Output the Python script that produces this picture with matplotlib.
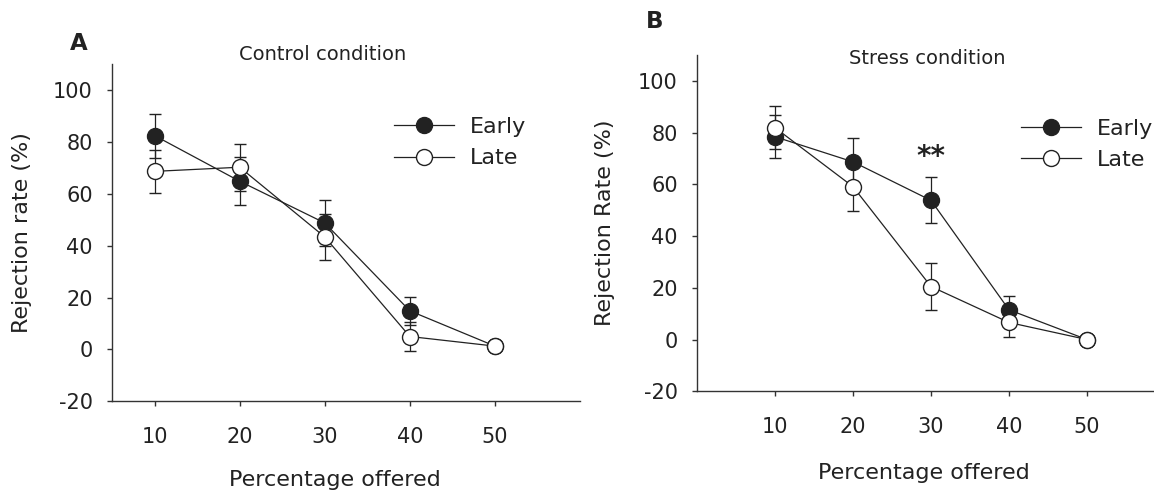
import matplotlib
matplotlib.use("Agg")
from matplotlib import pyplot as plt

# data
offers = [10, 20, 30, 40, 50]

ctrl_early = [82.5, 64.9, 48.8, 14.9, 1.3]
ctrl_early_err = [8.5, 9.2, 9.0, 5.5, 0]
ctrl_late = [68.7, 70.3, 43.4, 5.0, 1.3]
ctrl_late_err = [8.3, 9.1, 9.0, 5.5, 0]

stress_early = [78.4, 68.7, 53.8, 11.5, 0]
stress_early_err = [8.4, 9.4, 8.9, 5.3, 0]
stress_late = [81.9, 59.1, 20.5, 6.6, 0]
stress_late_err = [8.3, 9.4, 9.2, 5.7, 0]

y_ticks = [-20, 0, 20, 40, 60, 80, 100]
signif_x, signif_y = 30, 70.4

plt.rcParams['font.family'] = ['DejaVu Sans']
plt.rcParams['axes.unicode_minus'] = False
INK = '#222222'
AX = '#333333'


def draw_panel(ax, early, early_err, late, late_err, xlim, ylabel):
    style = dict(color=INK, lw=0.9, ms=11.5, mew=1.0, mec=INK,
                 elinewidth=0.9, capsize=4, capthick=0.9)
    e = ax.errorbar(offers, early, yerr=early_err, fmt='o-', mfc=INK, zorder=3, **style)
    l = ax.errorbar(offers, late, yerr=late_err, fmt='o-', mfc='white', zorder=4, **style)
    ax.set_xlim(*xlim)
    ax.set_ylim(-20, 110)
    ax.set_xticks(offers)
    ax.set_yticks(y_ticks)
    for s in ['top', 'right']:
        ax.spines[s].set_visible(False)
    for s in ['left', 'bottom']:
        ax.spines[s].set_color(AX)
        ax.spines[s].set_linewidth(1.0)
    ax.tick_params(axis='both', direction='out', length=3.8, width=1.0,
                   color=AX, labelcolor=INK, labelsize=15)
    ax.tick_params(axis='x', pad=15)
    ax.tick_params(axis='y', pad=10)
    ax.set_ylabel(ylabel, fontsize=16, color=INK)
    ax.set_xlabel('Percentage offered', fontsize=16, color=INK)
    return e, l


fig = plt.figure(figsize=(11.54, 4.92), dpi=100)
axA = fig.add_axes([0.0971, 0.1843, 0.4055, 0.685])
axB = fig.add_axes([0.604, 0.2047, 0.4055, 0.6835])

eA, lA = draw_panel(axA, ctrl_early, ctrl_early_err, ctrl_late, ctrl_late_err,
                    (5, 60), 'Rejection rate (%)')
eB, lB = draw_panel(axB, stress_early, stress_early_err, stress_late, stress_late_err,
                    (0, 60), 'Rejection Rate (%)')

axA.yaxis.set_label_coords(-0.171, 0.5)
axB.yaxis.set_label_coords(-0.175, 0.5)
axA.xaxis.set_label_coords(0.476, -0.204)
axB.xaxis.set_label_coords(0.485, -0.214)

axA.text(0.451, 1.028, 'Control condition', transform=axA.transAxes,
         ha='center', va='center', fontsize=14, color=INK)
axB.text(0.491, 0.990, 'Stress condition', transform=axB.transAxes,
         ha='center', va='center', fontsize=14, color=INK)

axB.text(signif_x, signif_y, '**', ha='center', va='center',
         fontsize=20, fontweight='bold', color=INK)

leg_kw = dict(frameon=False, fontsize=16, handlelength=2.7, handletextpad=0.7,
              labelspacing=0.5, borderpad=0, borderaxespad=0, loc='center left')
legA = axA.legend([eA[0], lA[0]], ['Early', 'Late'], bbox_to_anchor=(0.603, 0.767), **leg_kw)
legB = axB.legend([eB[0], lB[0]], ['Early', 'Late'], bbox_to_anchor=(0.692, 0.735), **leg_kw)
for leg in (legA, legB):
    for t in leg.get_texts():
        t.set_color(INK)

fig.text(79 / 1154, 1 - 44 / 492, 'A', ha='center', va='center',
         fontsize=16.5, fontweight='bold', color=INK)
fig.text(655 / 1154, 1 - 22 / 492, 'B', ha='center', va='center',
         fontsize=16.5, fontweight='bold', color=INK)

fig.savefig('out.png', dpi=100)
